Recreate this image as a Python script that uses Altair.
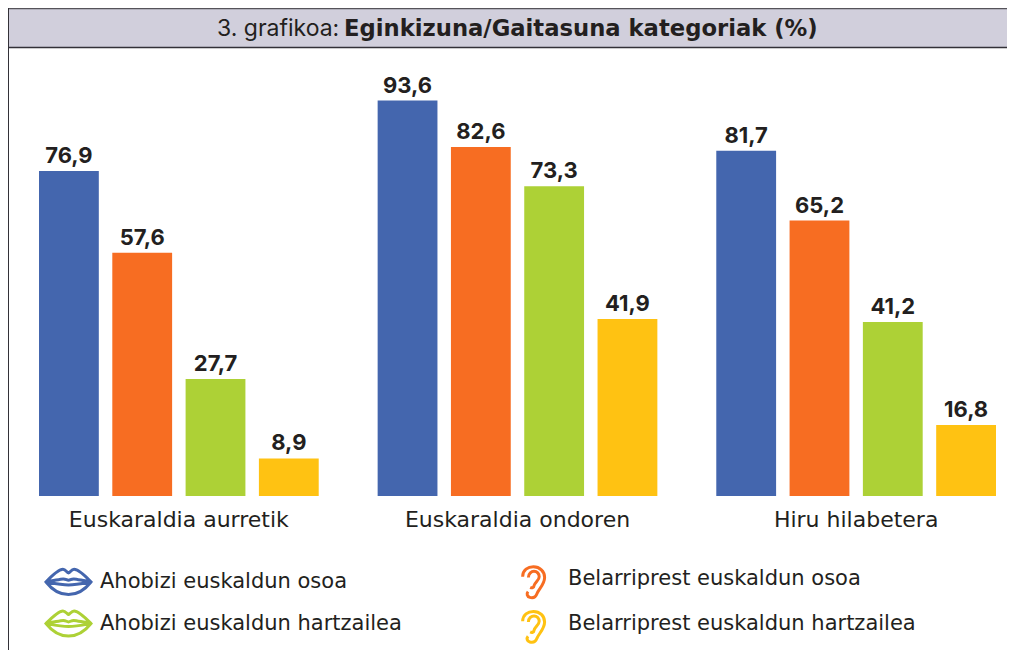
import altair as alt

groups = ["Euskaraldia aurretik", "Euskaraldia ondoren", "Hiru hilabetera"]
categories = ["Ahobizi euskaldun osoa", "Belarriprest euskaldun osoa",
              "Ahobizi euskaldun hartzailea", "Belarriprest euskaldun hartzailea"]
colors = ["#4466ae", "#f76d22", "#add136", "#ffc212"]
series_values = {
    "Euskaraldia aurretik": [76.9, 57.6, 27.7, 8.9],
    "Euskaraldia ondoren": [93.6, 82.6, 73.3, 41.9],
    "Hiru hilabetera": [81.7, 65.2, 41.2, 16.8],
}
title_regular = "3. grafikoa:"
title_bold = "Eginkizuna/Gaitasuna kategoriak (%)"

FONT = "Inter"
WIDE = "DejaVu Sans"
INK = "#231f20"

LIPS = ("M-1.25 0C-.96 -.3 -.58 -.7 -.31 -.7C-.16 -.7 -.1 -.54 0 -.5C.1 -.54 .16 -.7 .31 -.7"
        "C.58 -.7 .96 -.3 1.25 0C.96 .37 .58 .7 0 .7C-.58 .7 -.96 .37 -1.25 0Z"
        "M-1.25 0C-.77 -.07 -.48 -.17 -.29 -.17C-.14 -.17 -.1 -.09 0 -.09C.1 -.09 .14 -.17 .29 -.17"
        "C.48 -.17 .77 -.07 1.25 0C.77 .09 .38 .17 0 .17C-.38 .17 -.77 .09 -1.25 0Z")
EAR = ("M-.77 -.12C-.77 -.5 -.47 -.67 -.17 -.67C.18 -.67 .45 -.42 .45 -.08C.45 .3 .13 .56 .03 .81"
       "C-.05 1.03 -.22 1.07 -.37 1.03C-.52 .99 -.57 .83 -.47 .71"
       "M-.45 -.08C-.45 -.31 -.27 -.42 -.14 -.42C.03 -.42 .15 -.29 .15 -.12C.15 .09 -.09 .17 -.14 .39"
       "C-.15 .49 -.25 .52 -.35 .47")
shapes = [LIPS, EAR, LIPS, EAR]

rows = [
    {"group": g, "category": c, "value": v, "label": f"{v:.1f}".replace(".", ","), "hex": h}
    for g in groups for c, v, h in zip(categories, series_values[g], colors)
]
data = alt.Data(values=rows)

x = alt.X("group:N", sort=groups, title=None,
          scale=alt.Scale(domain=groups, range=[31, 988], paddingInner=0.174, paddingOuter=0),
          axis=alt.Axis(domain=False, ticks=False, labelAngle=0, labelFont=WIDE, labelFontSize=22,
                        labelColor=INK, labelPadding=13, labelFontWeight=400, labelLimit=320))
xo = alt.XOffset("category:N", sort=categories,
                 scale=alt.Scale(domain=categories, paddingInner=0.184, paddingOuter=0))
y = alt.Y("value:Q", title=None, axis=None, scale=alt.Scale(domain=[0, 115.5], nice=False, zero=True))
color_scale = alt.Scale(domain=categories, range=colors)
legend = alt.Legend(title=None, orient="none", legendX=41, legendY=551, columns=2, direction="horizontal",
                    symbolSize=1296, symbolStrokeWidth=3, symbolOpacity=1,
                    symbolFillColor="transparent",
                    labelFont=WIDE, labelFontSize=21, labelColor=INK, labelOffset=12,
                    labelLimit=420, columnPadding=114, rowPadding=-15, padding=0)

bars = alt.Chart(data).mark_bar().encode(
    x=x, xOffset=xo, y=y,
    fill=alt.Fill("hex:N", scale=None),
)
labels = alt.Chart(data).mark_text(font=FONT, fontSize=22, fontWeight=700, color=INK,
                                   baseline="alphabetic", dy=-8).encode(
    x=x, xOffset=xo, y=y, text="label:N",
)
legend_points = alt.Chart(data).mark_point(filled=False, strokeWidth=3, size=0).encode(
    x=x, xOffset=xo, y=y,
    color=alt.Color("category:N", scale=color_scale, legend=legend),
    shape=alt.Shape("category:N", scale=alt.Scale(domain=categories, range=shapes), legend=legend),
)

one = alt.Data(values=[{}])
header = alt.Chart(one).mark_rect(color="#d1cfdc").encode(
    x=alt.value(0), x2=alt.value(999), y=alt.value(0), y2=alt.value(40))
top_rule = alt.Chart(one).mark_rule(color="#55535a", strokeWidth=1.5).encode(
    x=alt.value(0), x2=alt.value(999), y=alt.value(0.5))
mid_rule = alt.Chart(one).mark_rule(color="#333138", strokeWidth=1.5).encode(
    x=alt.value(0), x2=alt.value(999), y=alt.value(39.5))
left_rule = alt.Chart(one).mark_rule(color="#333138", strokeWidth=2).encode(
    x=alt.value(0), y=alt.value(0), y2=alt.value(642))
title_a = alt.Chart(alt.Data(values=[{"t": title_regular}])).mark_text(
    font=FONT, fontSize=23, fontWeight=400, color=INK, align="left", baseline="middle").encode(
    x=alt.value(209), y=alt.value(21), text="t:N")
title_b = alt.Chart(alt.Data(values=[{"t": title_bold}])).mark_text(
    font=WIDE, fontSize=22.7, fontWeight=700, color=INK, align="left", baseline="middle").encode(
    x=alt.value(336), y=alt.value(21), text="t:N")

chart = alt.layer(header, top_rule, mid_rule, left_rule, title_a, title_b, bars, labels, legend_points).properties(
    width=999, height=488,
    padding={"left": 0, "right": 0, "top": 0, "bottom": 154},
    autosize=alt.AutoSizeParams(type="none", contains="content"),
    background="white",
).configure_view(stroke=None)

chart.save("out.html", embed_options={"renderer": "svg", "actions": False})
